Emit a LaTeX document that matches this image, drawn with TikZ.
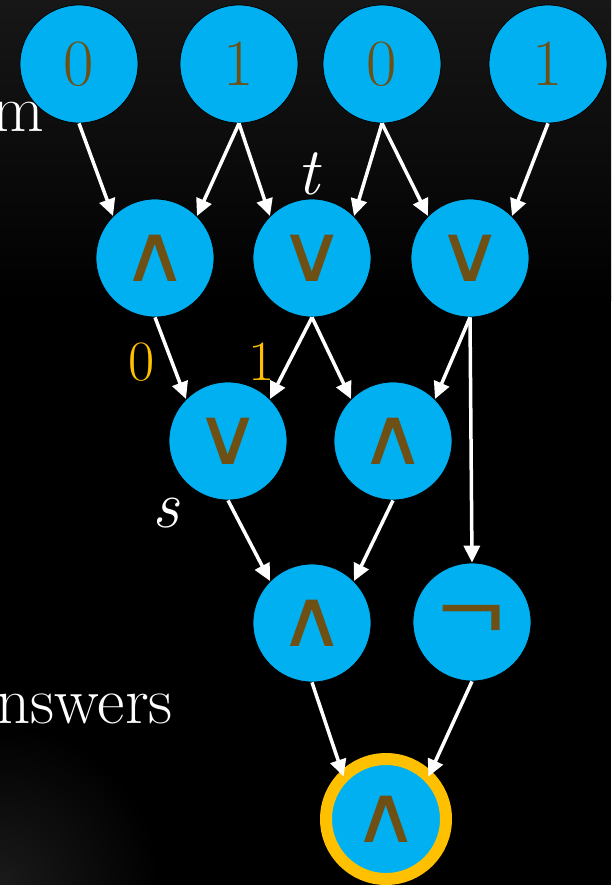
\documentclass[tikz,border=0pt]{standalone}
\usepackage{fontspec}
\newfontfamily\opfont[FakeStretch=1.15]{DejaVu Sans}
\newfontfamily\negfont[FakeStretch=1.3]{Liberation Sans}
\usetikzlibrary{arrows.meta}
\definecolor{nodeblue}{RGB}{0,176,240}
\definecolor{opbrown}{RGB}{110,80,20}
\definecolor{ansyellow}{RGB}{255,192,0}
\definecolor{topgray}{RGB}{23,23,23}
\definecolor{glowgray}{RGB}{26,26,26}
\begin{document}
\begin{tikzpicture}[x=1pt,y=-1pt,
  gate/.style={circle, fill=nodeblue, draw=black, line width=0.8pt, minimum size=118pt, inner sep=0pt, text=opbrown},
  bit/.style={gate, font=\fontsize{66}{70}\selectfont},
  op/.style={gate, font=\opfont\fontsize{80}{84}\selectfont},
  negop/.style={gate, font=\negfont\fontsize{90}{94}\selectfont},
  answer/.style={gate, draw=ansyellow, line width=12pt, minimum size=120pt, outer sep=0pt, font=\opfont\fontsize{80}{84}\selectfont},
  wire/.style={draw=white, line width=3.5pt, -{Triangle[length=17pt,width=16pt]}},
  lbl/.style={text=white, font=\fontsize{67}{70}\selectfont, inner sep=0pt},
  val/.style={text=ansyellow, font=\fontsize{57}{60}\selectfont, inner sep=0pt}]
\useasboundingbox (0,0) rectangle (611,885);
\fill[black] (0,0) rectangle (611,885);
\shade[top color=topgray, bottom color=black] (0,0) rectangle (611,300);
\begin{scope}
\clip (0,0) rectangle (611,885);
\shade[inner color=glowgray, outer color=black] (0,885) circle (160);
\end{scope}

% side texts
\node[lbl, anchor=base east] (tm) at (44,132) {m};
\node[lbl, anchor=base east] (tans) at (173,723) {nswers};

% inputs
\node[bit] (x1) at (79,64) {0};
\node[bit] (x2) at (239,64) {1};
\node[bit] (x3) at (382,64) {0};
\node[bit] (x4) at (548,64) {1};
% row 2
\node[op] (a) at (155,258) {∧};
\node[op] (b) at (312,258) {∨};
\node[op] (c) at (470,258) {∨};
% row 3
\node[op] (d) at (228,441) {∨};
\node[op] (e) at (393,441) {∧};
% row 4
\node[op] (f) at (312,623) {∧};
\node[negop] (g) at (472,622) {¬};
% output
\node[answer] (h) at (386,819) {∧};

% labels
\node[lbl, font=\itshape\fontsize{67}{70}\selectfont] (tl) at (308,174) {t};
\node[lbl, font=\itshape\fontsize{67}{70}\selectfont] (sl) at (166,513) {s};
\node[val] (v0) at (142,362) {0};
\node[val] (v1) at (262,362) {1};

% wires
\draw[wire] (x1.south) -- (a.north west);
\draw[wire] (x2.south) -- (a.north east);
\draw[wire] (x2.south) -- (b.north west);
\draw[wire] (x3.south) -- (b.north east);
\draw[wire] (x3.south) -- (c.north west);
\draw[wire] (x4.south) -- (c.north east);
\draw[wire] (a.south) -- (d.north west);
\draw[wire] (b.south) -- (d.north east);
\draw[wire] (b.south) -- (e.north west);
\draw[wire] (c.south) -- (e.north east);
\draw[wire] (c.south) -- (g.north);
\draw[wire] (d.south) -- (f.north west);
\draw[wire] (e.south) -- (f.north east);
\draw[wire] (f.south) -- (h.north west);
\draw[wire] (g.south) -- (h.north east);
\end{tikzpicture}
\end{document}
